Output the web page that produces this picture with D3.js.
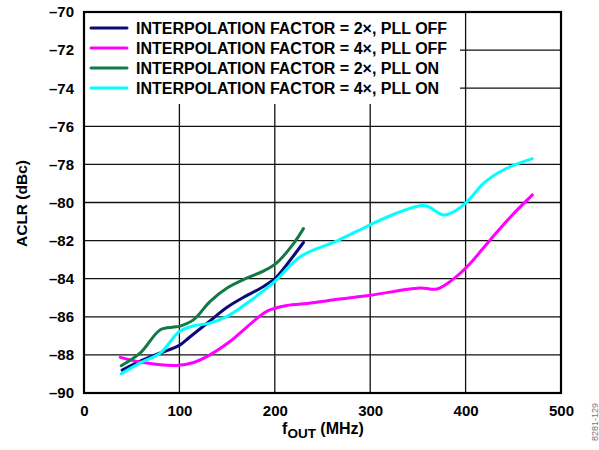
<!DOCTYPE html>
<html>
<head>
<meta charset="utf-8">
<script src="https://cdn.jsdelivr.net/npm/d3@7"></script>
<style>
  html, body { margin: 0; padding: 0; background: #fff; }
  svg text { font-family: "Liberation Sans", Arial, sans-serif; }
</style>
</head>
<body>
<svg id="chart" width="599" height="450"></svg>
<script>
// ACLR vs output frequency for the four interpolation / PLL configurations
const seriesNames = [
  "INTERPOLATION FACTOR = 2×, PLL OFF",
  "INTERPOLATION FACTOR = 4×, PLL OFF",
  "INTERPOLATION FACTOR = 2×, PLL ON",
  "INTERPOLATION FACTOR = 4×, PLL ON"
];
const seriesColors = ["#0a0a7a", "#ff00ff", "#127a44", "#00ffff"];

const pllOff2x = [
  [40, -88.8], [60, -88.3], [80, -87.9], [100, -87.5], [110, -87.1], [130, -86.3],
  [150, -85.5], [170, -84.9], [185, -84.5], [200, -84.0], [215, -83.1], [230, -82.1]
];
const pllOff4x = [
  [38, -88.13], [62, -88.4], [97, -88.55], [115, -88.4], [132, -88.0], [153, -87.3],
  [174, -86.4], [192, -85.7], [213, -85.4], [234, -85.3], [268, -85.07], [300, -84.87],
  [352, -84.49], [370, -84.54], [384, -84.14], [402, -83.35], [426, -81.95], [447, -80.76],
  [470, -79.6]
];
const pllOn2x = [
  [39, -88.57], [59, -87.9], [80, -86.68], [94, -86.54], [100, -86.5], [115, -86.15],
  [132, -85.2], [150, -84.49], [171, -83.96], [188, -83.6], [202, -83.17], [220, -82.13],
  [230, -81.37]
];
const pllOn4x = [
  [39, -88.99], [59, -88.42], [80, -87.9], [100, -86.77], [115, -86.47], [132, -86.33],
  [150, -85.98], [171, -85.28], [200, -84.14], [227, -82.83], [266, -82.0], [300, -81.17],
  [328, -80.55], [352, -80.17], [360, -80.2], [377, -80.66], [388, -80.47], [402, -79.94],
  [419, -78.98], [440, -78.28], [470, -77.7]
];
const seriesData = [pllOff2x, pllOff4x, pllOn2x, pllOn4x];

const xTicks = [0, 100, 200, 300, 400, 500];
const yTicks = [-70, -72, -74, -76, -78, -80, -82, -84, -86, -88, -90];

const svg = d3.select("#chart");
const plotL = 84, plotR = 561, plotT = 12, plotB = 393;

const x = d3.scaleLinear().domain([0, 500]).range([plotL, plotR]);
const y = d3.scaleLinear().domain([-90, -70]).range([plotB, plotT]);

const fmt = v => (v < 0 ? "\u2013" + Math.abs(v) : String(v));

// grid
const grid = svg.append("g").attr("stroke", "#111").attr("stroke-width", 1.3);
grid.selectAll("line.v").data(xTicks.slice(1, -1)).join("line")
  .attr("x1", d => x(d)).attr("x2", d => x(d))
  .attr("y1", y(-90)).attr("y2", y(-70));
grid.selectAll("line.h").data(yTicks.slice(1, -1)).join("line")
  .attr("x1", plotL).attr("x2", plotR)
  .attr("y1", d => y(d)).attr("y2", d => y(d));

// legend backdrop hides the grid behind the key
svg.append("rect")
  .attr("x", plotL + 1).attr("y", plotT + 1)
  .attr("width", 460 - plotL - 1).attr("height", 104 - plotT - 1)
  .attr("fill", "#fff");

// frame
svg.append("rect")
  .attr("x", plotL).attr("y", plotT)
  .attr("width", plotR - plotL).attr("height", plotB - plotT)
  .attr("fill", "none").attr("stroke", "#000").attr("stroke-width", 2.2);

// axes (labels only)
const yAxis = d3.axisLeft(y).tickValues(yTicks).tickSize(0).tickPadding(10).tickFormat(fmt);
const yg = svg.append("g").attr("transform", `translate(${plotL},0)`).call(yAxis);
const xAxis = d3.axisBottom(x).tickValues(xTicks).tickSize(0).tickPadding(12).tickFormat(fmt);
const xg = svg.append("g").attr("transform", `translate(0,${plotB})`).call(xAxis);
[yg, xg].forEach(g => {
  g.select(".domain").remove();
  g.selectAll("text")
    .attr("font-family", "Liberation Sans, Arial, sans-serif")
    .attr("font-size", 15).attr("font-weight", "bold").attr("fill", "#000");
});

// series
const line = d3.line().x(d => x(d[0])).y(d => y(d[1])).curve(d3.curveCatmullRom.alpha(0.5));
svg.append("g").selectAll("path").data(seriesData).join("path")
  .attr("d", line)
  .attr("fill", "none")
  .attr("stroke", (d, i) => seriesColors[i])
  .attr("stroke-width", 3)
  .attr("stroke-linecap", "round")
  .attr("stroke-linejoin", "round");

// legend
const legendY = [28, 48, 68, 88];
const lg = svg.append("g");
seriesNames.forEach((name, i) => {
  lg.append("line")
    .attr("x1", 91).attr("x2", 127)
    .attr("y1", legendY[i]).attr("y2", legendY[i])
    .attr("stroke", seriesColors[i]).attr("stroke-width", 3)
    .attr("stroke-linecap", "round");
  lg.append("text")
    .attr("x", 136).attr("y", legendY[i]).attr("dy", "0.36em")
    .attr("font-size", 16).attr("font-weight", "bold")
    .text(name);
});

// axis titles
svg.append("text")
  .attr("transform", `translate(27,${(plotT + plotB) / 2 + 1}) rotate(-90)`)
  .attr("text-anchor", "middle")
  .attr("font-size", 15.5).attr("font-weight", "bold")
  .text("ACLR (dBc)");

const xt = svg.append("text")
  .attr("x", 323).attr("y", 434)
  .attr("text-anchor", "middle")
  .attr("font-size", 16).attr("font-weight", "bold");
xt.append("tspan").text("f");
xt.append("tspan").attr("font-size", 13.5).attr("dy", 4).text("OUT");
xt.append("tspan").attr("dy", -4).text(" (MHz)");

// figure id
svg.append("text")
  .attr("transform", "translate(598,403) rotate(-90)")
  .attr("text-anchor", "end")
  .attr("font-size", 9).attr("fill", "#777")
  .text("8281-129");
</script>
</body>
</html>
